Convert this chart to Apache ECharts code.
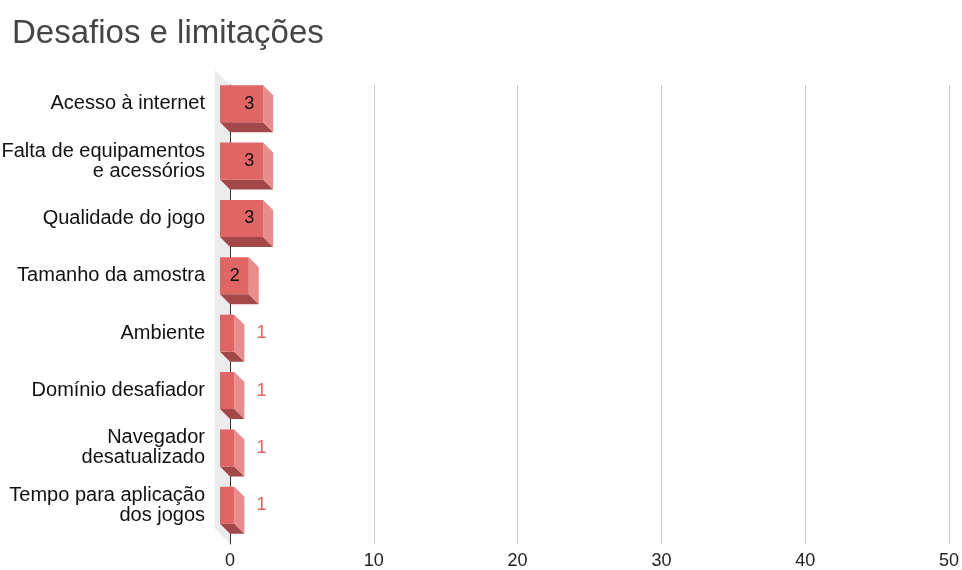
<!DOCTYPE html>
<html>
<head>
<meta charset="utf-8">
<script src="https://cdn.jsdelivr.net/npm/echarts@6/dist/echarts.min.js"></script>
<style>
  html, body { margin: 0; padding: 0; background: #fff; }
  #chart { width: 962px; height: 570px; }
</style>
</head>
<body>
<div id="chart"></div>
<script>
// Categories (top to bottom) and their counts
const categories = [
  'Acesso à internet',
  'Falta de equipamentos\ne acessórios',
  'Qualidade do jogo',
  'Tamanho da amostra',
  'Ambiente',
  'Domínio desafiador',
  'Navegador\ndesatualizado',
  'Tempo para aplicação\ndos jogos'
];
const counts = [3, 3, 3, 2, 1, 1, 1, 1];
const axisTicks = [0, 10, 20, 30, 40, 50];

const FONT = '"Liberation Sans", Arial, sans-serif';
const DEPTH = 10;          // 3D extrusion of the bars, px
const WALL_DEPTH = 15;     // depth of the side wall, px
const FACE = '#e06666';
const SIDE = '#e98c8c';
const BOTTOM = '#a34848';

const chart = echarts.init(document.getElementById('chart'));

function renderBar(params, api) {
  const val = api.value(0);
  const cat = api.value(1);
  const p0 = api.coord([0, cat]);
  const p1 = api.coord([val, cat]);
  const band = api.size([0, 1])[1];
  const h = band * 0.645;
  const top = p0[1] - h / 2;
  const bot = p0[1] + h / 2;
  const x0 = p0[0], x1 = p1[0];
  const d = DEPTH;
  const frontW = x1 - x0;
  const inside = frontW >= 25;
  const children = [
    { type: 'polygon', shape: { points: [[x0 - d, bot - d], [x1 - d, bot - d], [x1, bot], [x0, bot]] },
      style: { fill: BOTTOM } },
    { type: 'polygon', shape: { points: [[x1 - d, top - d], [x1, top], [x1, bot], [x1 - d, bot - d]] },
      style: { fill: SIDE } },
    { type: 'rect', shape: { x: x0 - d, y: top - d, width: frontW, height: h },
      style: { fill: FACE } },
    { type: 'text',
      style: inside ? {
        text: String(val), x: x1 - d - 9, y: p0[1] - d, align: 'right', verticalAlign: 'middle',
        fill: '#111', font: '18px ' + FONT
      } : {
        text: String(val), x: x1 + 12, y: p0[1] - d, align: 'left', verticalAlign: 'middle',
        fill: FACE, font: '18px ' + FONT
      } },
    // category name, aligned with the front face of the bar
    { type: 'text',
      style: {
        text: categories[cat], x: x0 - 25, y: p0[1] - d, align: 'right', verticalAlign: 'middle',
        fill: '#111', font: '20px ' + FONT, lineHeight: 20
      } }
  ];
  return { type: 'group', children };
}

function renderWall(params, api) {
  if (params.dataIndex !== 0) return null;
  const cs = params.coordSys;
  const w = WALL_DEPTH;
  return {
    type: 'polygon',
    shape: { points: [[cs.x - w, cs.y - w], [cs.x, cs.y], [cs.x, cs.y + cs.height], [cs.x - w, cs.y + cs.height - w]] },
    style: { fill: '#ececec' }
  };
}

chart.setOption({
  animation: false,
  backgroundColor: '#ffffff',
  title: {
    text: 'Desafios e limitações',
    left: 7, top: 12,
    textStyle: { fontFamily: FONT, fontSize: 33, fontWeight: 'normal', color: '#454545' }
  },
  grid: { left: 230, right: 12, top: 85, bottom: 25, containLabel: false },
  xAxis: {
    type: 'value', min: axisTicks[0], max: axisTicks[axisTicks.length - 1], interval: 10,
    axisLine: { show: false }, axisTick: { show: false },
    splitLine: { show: true, lineStyle: { color: '#cccccc', width: 1 } },
    axisLabel: { fontFamily: FONT, fontSize: 18, color: '#222', margin: 8 }
  },
  yAxis: {
    type: 'category', data: categories, inverse: true, z: 3,
    axisLine: { show: true, lineStyle: { color: '#333', width: 1 } },
    axisTick: { show: false },
    splitLine: { show: false },
    axisLabel: { show: false }
  },
  series: [
    {
      type: 'custom', name: 'wall', z: 1, silent: true,
      renderItem: renderWall,
      encode: { x: 0, y: 1 },
      data: counts.map((v, i) => [0, i])
    },
    {
      type: 'custom', name: 'Contagem', z: 5,
      renderItem: renderBar,
      encode: { x: 0, y: 1 },
      data: counts.map((v, i) => [v, i])
    }
  ]
});
</script>
</body>
</html>
